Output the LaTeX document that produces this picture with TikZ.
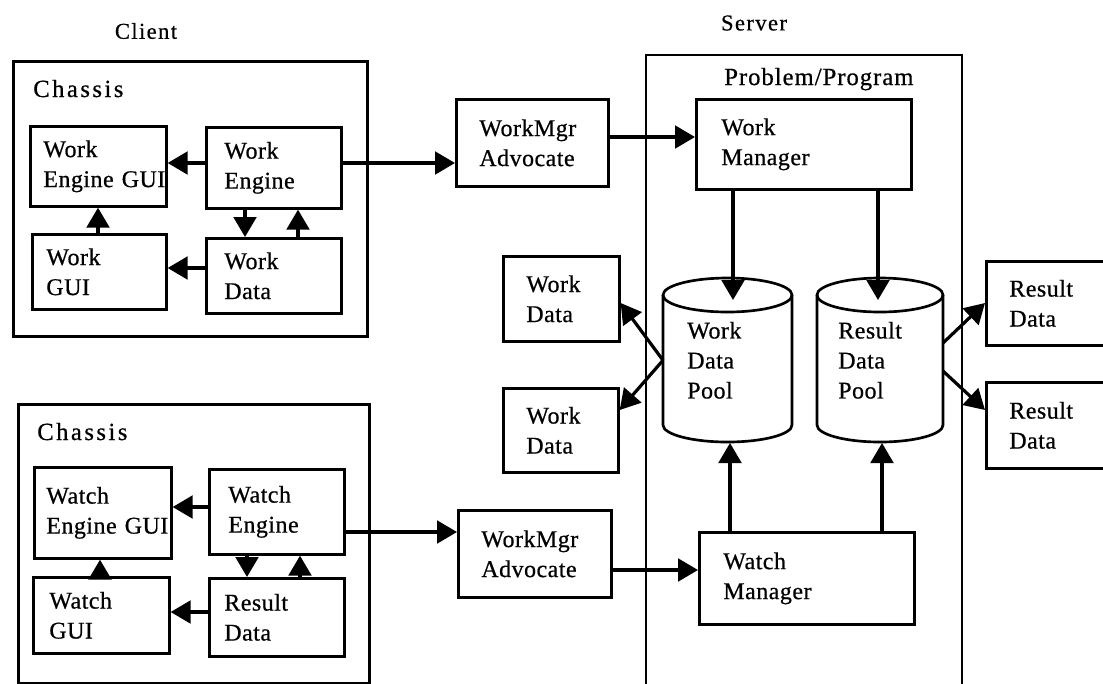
\documentclass[tikz,border=0pt]{standalone}
\usepackage{fontspec}
\setmainfont{Liberation Serif}
\newfontfamily\widefont[LetterSpace=6,FakeBold=0.6]{Liberation Serif}
\newfontfamily\chassisfont[LetterSpace=10,FakeBold=0.6]{Liberation Serif}
\newfontfamily\boxfont[LetterSpace=2,FakeBold=0.6]{Liberation Serif}
\newfontfamily\titlefont[LetterSpace=4,FakeBold=0.6]{Liberation Serif}
\usetikzlibrary{arrows.meta}

\tikzset{
  lbl/.style={font=\boxfont\fontsize{18}{22.5}\selectfont},
  frame/.style={draw, line width=2pt, rectangle, anchor=north west, inner ysep=0pt, align=left, lbl},
  bare/.style={rectangle, anchor=north west, inner ysep=0pt, align=left, lbl},
  dims/.style n args={3}{minimum width=#1*0.75pt, minimum height=#2*0.75pt,
    inner xsep=#3*0.75pt,
    /utils/exec={\pgfmathsetlengthmacro\boxtextwidth{(#1-2*#3)*0.75}},
    text width=\boxtextwidth},
  wall/.style={line width=2pt},
  link/.style={line width=2.4pt, -{Triangle[length=15pt,width=17pt]}},
  heading/.style={font=\widefont\fontsize{17}{20}\selectfont},
  chlabel/.style={anchor=base west, inner sep=0pt, font=\chassisfont\fontsize{18.5}{22}\selectfont},
}

\begin{document}
\begin{tikzpicture}[x=0.75pt,y=-0.75pt]
\useasboundingbox (0,0) rectangle (1103,683);
\clip (0,0) rectangle (1103,683);

% headings
\node[heading] (client) at (146,31) {Client};
\node[heading] (server) at (754,23) {Server};

% server container, open at the bottom
\draw[wall] (646,690) -- (646,55) -- (962,55) -- (962,690);
\node[anchor=base west, inner sep=0pt, font=\titlefont\fontsize{18.5}{22}\selectfont] (prob) at (724,85) {Problem/Program};

% ---------- work client ----------
\node[frame, dims={354}{275}{0}] (chassisA) at (12,60) {};
\node[chlabel] (chA) at (33,97) {Chassis};
\node[frame, dims={136}{80}{13}] (WEG) at (29,125) {Work\\Engine~GUI};
\node[frame, dims={135}{81}{18}] (WE) at (205,126) {Work\\Engine};
\node[frame, dims={134}{75}{14}] (WGUI) at (31,233) {Work\\GUI};
\node[frame, dims={135}{75}{18}] (WD) at (205,237) {Work\\Data};

\coordinate (yWE) at (0,163);
\coordinate (yWD) at (0,268);
\coordinate (xWG) at (98,0);
\coordinate (xDown) at (245,0);
\coordinate (xUp) at (298,0);
\draw[link] (WE.west |- yWE) -- (WEG.east |- yWE);
\draw[link] (WD.west |- yWD) -- (WGUI.east |- yWD);
\draw[link] (WGUI.north -| xWG) -- (WEG.south -| xWG);
\draw[link] (WE.south -| xDown) -- (WD.north -| xDown);
\draw[link] (WD.north -| xUp) -- (WE.south -| xUp);

\node[frame, dims={152}{87}{23}] (AdvA) at (455,98) {WorkMgr\\Advocate};
\draw[link] (WE.east |- yWE) -- (AdvA.west |- yWE);

\node[frame, dims={215}{90}{25}] (WM) at (695,98) {Work\\Manager};
\coordinate (yAdvA) at (0,137);
\draw[link] (AdvA.east |- yAdvA) -- (WM.west |- yAdvA);

% ---------- data pools ----------
\node[bare, dims={129}{164}{24}] (WDP) at (663,278) {Work\\Data\\Pool};
\node[bare, dims={126}{164}{21}] (RDP) at (817,278) {Result\\Data\\Pool};
\draw[wall] (663,295) -- (663,425) arc[start angle=180, end angle=360, x radius=48.375pt, y radius=12.75pt] -- (792,295);
\draw[wall] (727.5,295) ellipse[x radius=48.375pt, y radius=12.75pt];
\draw[wall] (817,295) -- (817,425) arc[start angle=180, end angle=360, x radius=47.25pt, y radius=12.75pt] -- (943,295);
\draw[wall] (880,295) ellipse[x radius=47.25pt, y radius=12.75pt];

\coordinate (wdpTop) at (733,300);
\coordinate (rdpTop) at (878,300);
\coordinate (wdpBot) at (730,443);
\coordinate (rdpBot) at (882,443);
\coordinate (rdpR1) at (943,343);
\coordinate (rdpR2) at (943,371);

\draw[link] (WM.south -| wdpTop) -- (wdpTop);
\draw[link] (WM.south -| rdpTop) -- (rdpTop);

\node[frame, dims={116}{85}{23}] (WDa) at (502,255) {Work\\Data};
\node[frame, dims={115}{84}{23}] (WDb) at (502,387) {Work\\Data};
\coordinate (yTipA) at (0,303);
\coordinate (yTipB) at (0,410);
\draw[link] (WDP.west) -- (WDa.east |- yTipA);
\draw[link] (WDP.west) -- (WDb.east |- yTipB);

\node[frame, dims={140}{84}{23}] (RDa) at (985,260) {Result\\Data};
\node[frame, dims={140}{86}{23}] (RDb) at (985,381) {Result\\Data};
\draw[link] (rdpR1) -- (RDa.west |- yTipA);
\draw[link] (rdpR2) -- (RDb.west |- yTipB);

% ---------- watch client ----------
\node[frame, dims={351}{279}{0}] (chassisB) at (17,403) {};
\node[chlabel] (chB) at (37,440) {Chassis};
\node[frame, dims={137}{91}{12}] (WaEG) at (33,466) {Watch\\Engine~GUI};
\node[frame, dims={135}{85}{19}] (WaE) at (208,468) {Watch\\Engine};
\node[frame, dims={136}{76}{16}] (WaG) at (32,576) {Watch\\GUI};
\node[frame, dims={135}{78}{15}] (RD) at (208,577) {Result\\Data};

\coordinate (yWaE) at (0,507);
\coordinate (yRD) at (0,612);
\coordinate (xWaG) at (100,0);
\coordinate (xDownB) at (247,0);
\coordinate (xUpB) at (300,0);
\draw[link] (WaE.west |- yWaE) -- (WaEG.east |- yWaE);
\draw[link] (RD.west |- yRD) -- (WaG.east |- yRD);
\draw[link] (WaG.north -| xWaG) -- (WaEG.south -| xWaG);
\draw[link] (WaE.south -| xDownB) -- (RD.north -| xDownB);
\draw[link] (RD.north -| xUpB) -- (WaE.south -| xUpB);

\node[frame, dims={153}{87}{23}] (AdvB) at (457,509) {WorkMgr\\Advocate};
\coordinate (yWaOut) at (0,532);
\draw[link] (WaE.east |- yWaOut) -- (AdvB.west |- yWaOut);

\node[frame, dims={215}{92}{24}] (WtM) at (698,531) {Watch\\Manager};
\coordinate (yAdvB) at (0,570);
\draw[link] (AdvB.east |- yAdvB) -- (WtM.west |- yAdvB);
\draw[link] (WtM.north -| wdpBot) -- (wdpBot);
\draw[link] (WtM.north -| rdpBot) -- (rdpBot);
\end{tikzpicture}
\end{document}
